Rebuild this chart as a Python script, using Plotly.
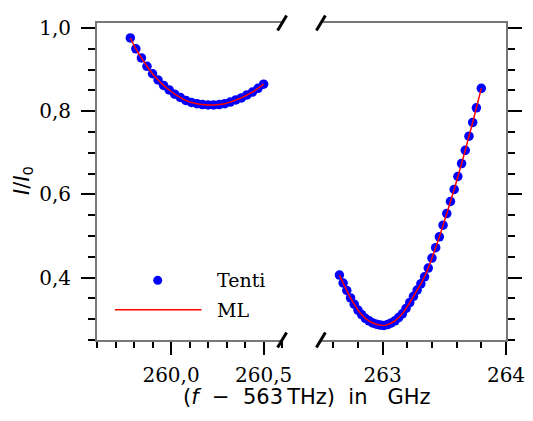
import plotly.graph_objects as go

# ---------------- data ----------------
left_x = [259.78, 259.81, 259.84, 259.87, 259.90, 259.93, 259.96, 259.99, 260.02, 260.05,
          260.08, 260.11, 260.14, 260.17, 260.20, 260.23, 260.26, 260.29, 260.32, 260.35,
          260.38, 260.41, 260.44, 260.47, 260.50]
left_tenti = [0.976, 0.950, 0.928, 0.908, 0.890, 0.875, 0.862, 0.851, 0.841, 0.833,
              0.826, 0.821, 0.818, 0.816, 0.815, 0.815, 0.816, 0.818, 0.822, 0.827,
              0.832, 0.839, 0.846, 0.855, 0.865]
left_ml = list(left_tenti)

right_x = [262.65, 262.68, 262.71, 262.74, 262.77, 262.80, 262.83, 262.86, 262.89, 262.92,
           262.95, 262.98, 263.01, 263.04, 263.07, 263.10, 263.13, 263.16, 263.19, 263.22,
           263.25, 263.28, 263.31, 263.34, 263.37, 263.40, 263.43, 263.46, 263.49, 263.52,
           263.55, 263.58, 263.61, 263.64, 263.67, 263.70, 263.73, 263.76, 263.80]
right_tenti = [0.406, 0.387, 0.369, 0.351, 0.336, 0.322, 0.311, 0.302, 0.296, 0.291,
               0.288, 0.286, 0.285, 0.287, 0.291, 0.296, 0.304, 0.313, 0.326, 0.340,
               0.355, 0.370, 0.385, 0.402, 0.423, 0.447, 0.472, 0.498, 0.526, 0.554,
               0.583, 0.612, 0.643, 0.674, 0.706, 0.740, 0.773, 0.808, 0.855]
right_ml = list(right_tenti)

y_ticks = [0.4, 0.6, 0.8, 1.0]
y_ticklabels = ["0,4", "0,6", "0,8", "1,0"]
left_xticks = [260.0, 260.5]
left_xticklabels = ["260,0", "260,5"]
right_xticks = [263, 264]
right_xticklabels = ["263", "264"]

# ---------------- layout geometry (page pixels) ----------------
OFF = 8                      # page body margin
PAGE_W, PAGE_H = 533, 421
W, H = PAGE_W - OFF, PAGE_H - OFF
PL, PR, PT, PB = 97, 508, 16, 340   # plot area edges in page pixels
ML_, MR, MT, MB = PL - OFF, PAGE_W - PR, PT - OFF, PAGE_H - PB
PW, PH = PR - PL, PB - PT
left_dom = [0, 186 / PW]
right_dom = [225 / PW, 1]

SERIF = "DejaVu Serif"
SANS = "DejaVu Sans"
spine = "#777777"
tickfont = dict(family=SERIF, size=20, color="black")

fig = go.Figure()
fig.add_trace(go.Scatter(x=left_x, y=left_tenti, mode="markers", name="Tenti",
                         marker=dict(color="#0000ff", size=9.5), showlegend=False,
                         xaxis="x", yaxis="y"))
fig.add_trace(go.Scatter(x=left_x, y=left_ml, mode="lines", name="ML",
                         line=dict(color="#ff0000", width=1.5, shape="spline"), showlegend=False,
                         xaxis="x", yaxis="y"))
fig.add_trace(go.Scatter(x=right_x, y=right_tenti, mode="markers", name="Tenti",
                         marker=dict(color="#0000ff", size=9.5), showlegend=False,
                         xaxis="x2", yaxis="y2"))
fig.add_trace(go.Scatter(x=right_x, y=right_ml, mode="lines", name="ML",
                         line=dict(color="#ff0000", width=1.5, shape="spline"), showlegend=False,
                         xaxis="x2", yaxis="y2"))

common_axis = dict(showline=True, linecolor=spine, linewidth=2, showgrid=False,
                   zeroline=False, ticks="outside", tickcolor="black", tickwidth=2,
                   tickfont=tickfont)

fig.update_layout(
    width=W, height=H,
    margin=dict(l=ML_, r=MR, t=MT, b=MB),
    paper_bgcolor="white", plot_bgcolor="white",
    showlegend=False,
    separators=",.",
    xaxis=dict(domain=left_dom, range=[259.6, 260.6], anchor="y", mirror=True,
               tickmode="array", tickvals=left_xticks, ticktext=left_xticklabels,
               ticklen=13, ticklabelstandoff=3,
               minor=dict(dtick=0.1, tick0=259.6, ticklen=6, tickcolor="black",
                          tickwidth=2, ticks="outside"),
               **common_axis),
    xaxis2=dict(domain=right_dom, range=[262.5, 264.0], anchor="y2", mirror=True,
                tickmode="array", tickvals=right_xticks, ticktext=right_xticklabels,
                ticklen=13, ticklabelstandoff=3,
                minor=dict(dtick=0.2, tick0=262.6, ticklen=6, tickcolor="black",
                           tickwidth=2, ticks="outside"),
                **common_axis),
    yaxis=dict(range=[0.25, 1.012], anchor="x", side="left",
               tickmode="array", tickvals=y_ticks, ticktext=y_ticklabels,
               ticklen=14, ticklabelstandoff=6,
               minor=dict(dtick=0.05, tick0=0.25, ticklen=7, tickcolor="black",
                          tickwidth=2, ticks="outside"),
               **common_axis),
    yaxis2=dict(range=[0.25, 1.012], anchor="x2", side="right", matches="y",
                tickmode="array", tickvals=y_ticks, ticktext=y_ticklabels,
                showticklabels=False, ticklen=14,
                minor=dict(dtick=0.05, tick0=0.25, ticklen=7, tickcolor="black",
                           tickwidth=2, ticks="outside"),
                **common_axis),
)


def px2x(px):
    return (px - PL) / PW


def py2y(py):
    return (PB - py) / PH


# axis titles
fig.add_annotation(text="(<i>f</i>\u00a0 \u2212\u00a0 563\u2009THz)\u00a0\u00a0in\u00a0\u00a0\u00a0GHz",
                   xref="paper", yref="paper", x=px2x(308), y=py2y(398),
                   xanchor="center", yanchor="middle", showarrow=False,
                   font=dict(family=SANS, size=21, color="black"))
fig.add_annotation(text="<i>I</i>/<i>I</i><sub>0</sub>",
                   xref="paper", yref="paper", x=px2x(22), y=py2y(177),
                   xanchor="center", yanchor="middle", showarrow=False, textangle=-90,
                   font=dict(family=SANS, size=21, color="black"))

# axis break marks
for xa in (left_dom[1], right_dom[0]):
    for ya in (0, 1):
        fig.add_shape(type="line", xref="paper", yref="paper",
                      xsizemode="pixel", ysizemode="pixel",
                      xanchor=xa, yanchor=ya, x0=-4.5, x1=4.5, y0=-7.5, y1=7.5,
                      line=dict(color="black", width=3))

# legend (drawn manually to match the long legend line)
fig.add_shape(type="circle", xref="paper", yref="paper", xsizemode="pixel", ysizemode="pixel",
              xanchor=px2x(158), yanchor=py2y(279), x0=-4.5, x1=4.5, y0=-4.5, y1=4.5,
              fillcolor="#0000ff", line=dict(width=0))
fig.add_shape(type="line", xref="paper", yref="paper",
              x0=px2x(115), x1=px2x(202), y0=py2y(309), y1=py2y(309),
              line=dict(color="#ff0000", width=1.5))
fig.add_annotation(text="Tenti", xref="paper", yref="paper", x=px2x(216), y=py2y(279),
                   xanchor="left", yanchor="middle", showarrow=False,
                   font=dict(family=SERIF, size=19, color="black"))
fig.add_annotation(text="ML", xref="paper", yref="paper", x=px2x(216), y=py2y(309),
                   xanchor="left", yanchor="middle", showarrow=False,
                   font=dict(family=SERIF, size=19, color="black"))

fig.write_html("out.html")
